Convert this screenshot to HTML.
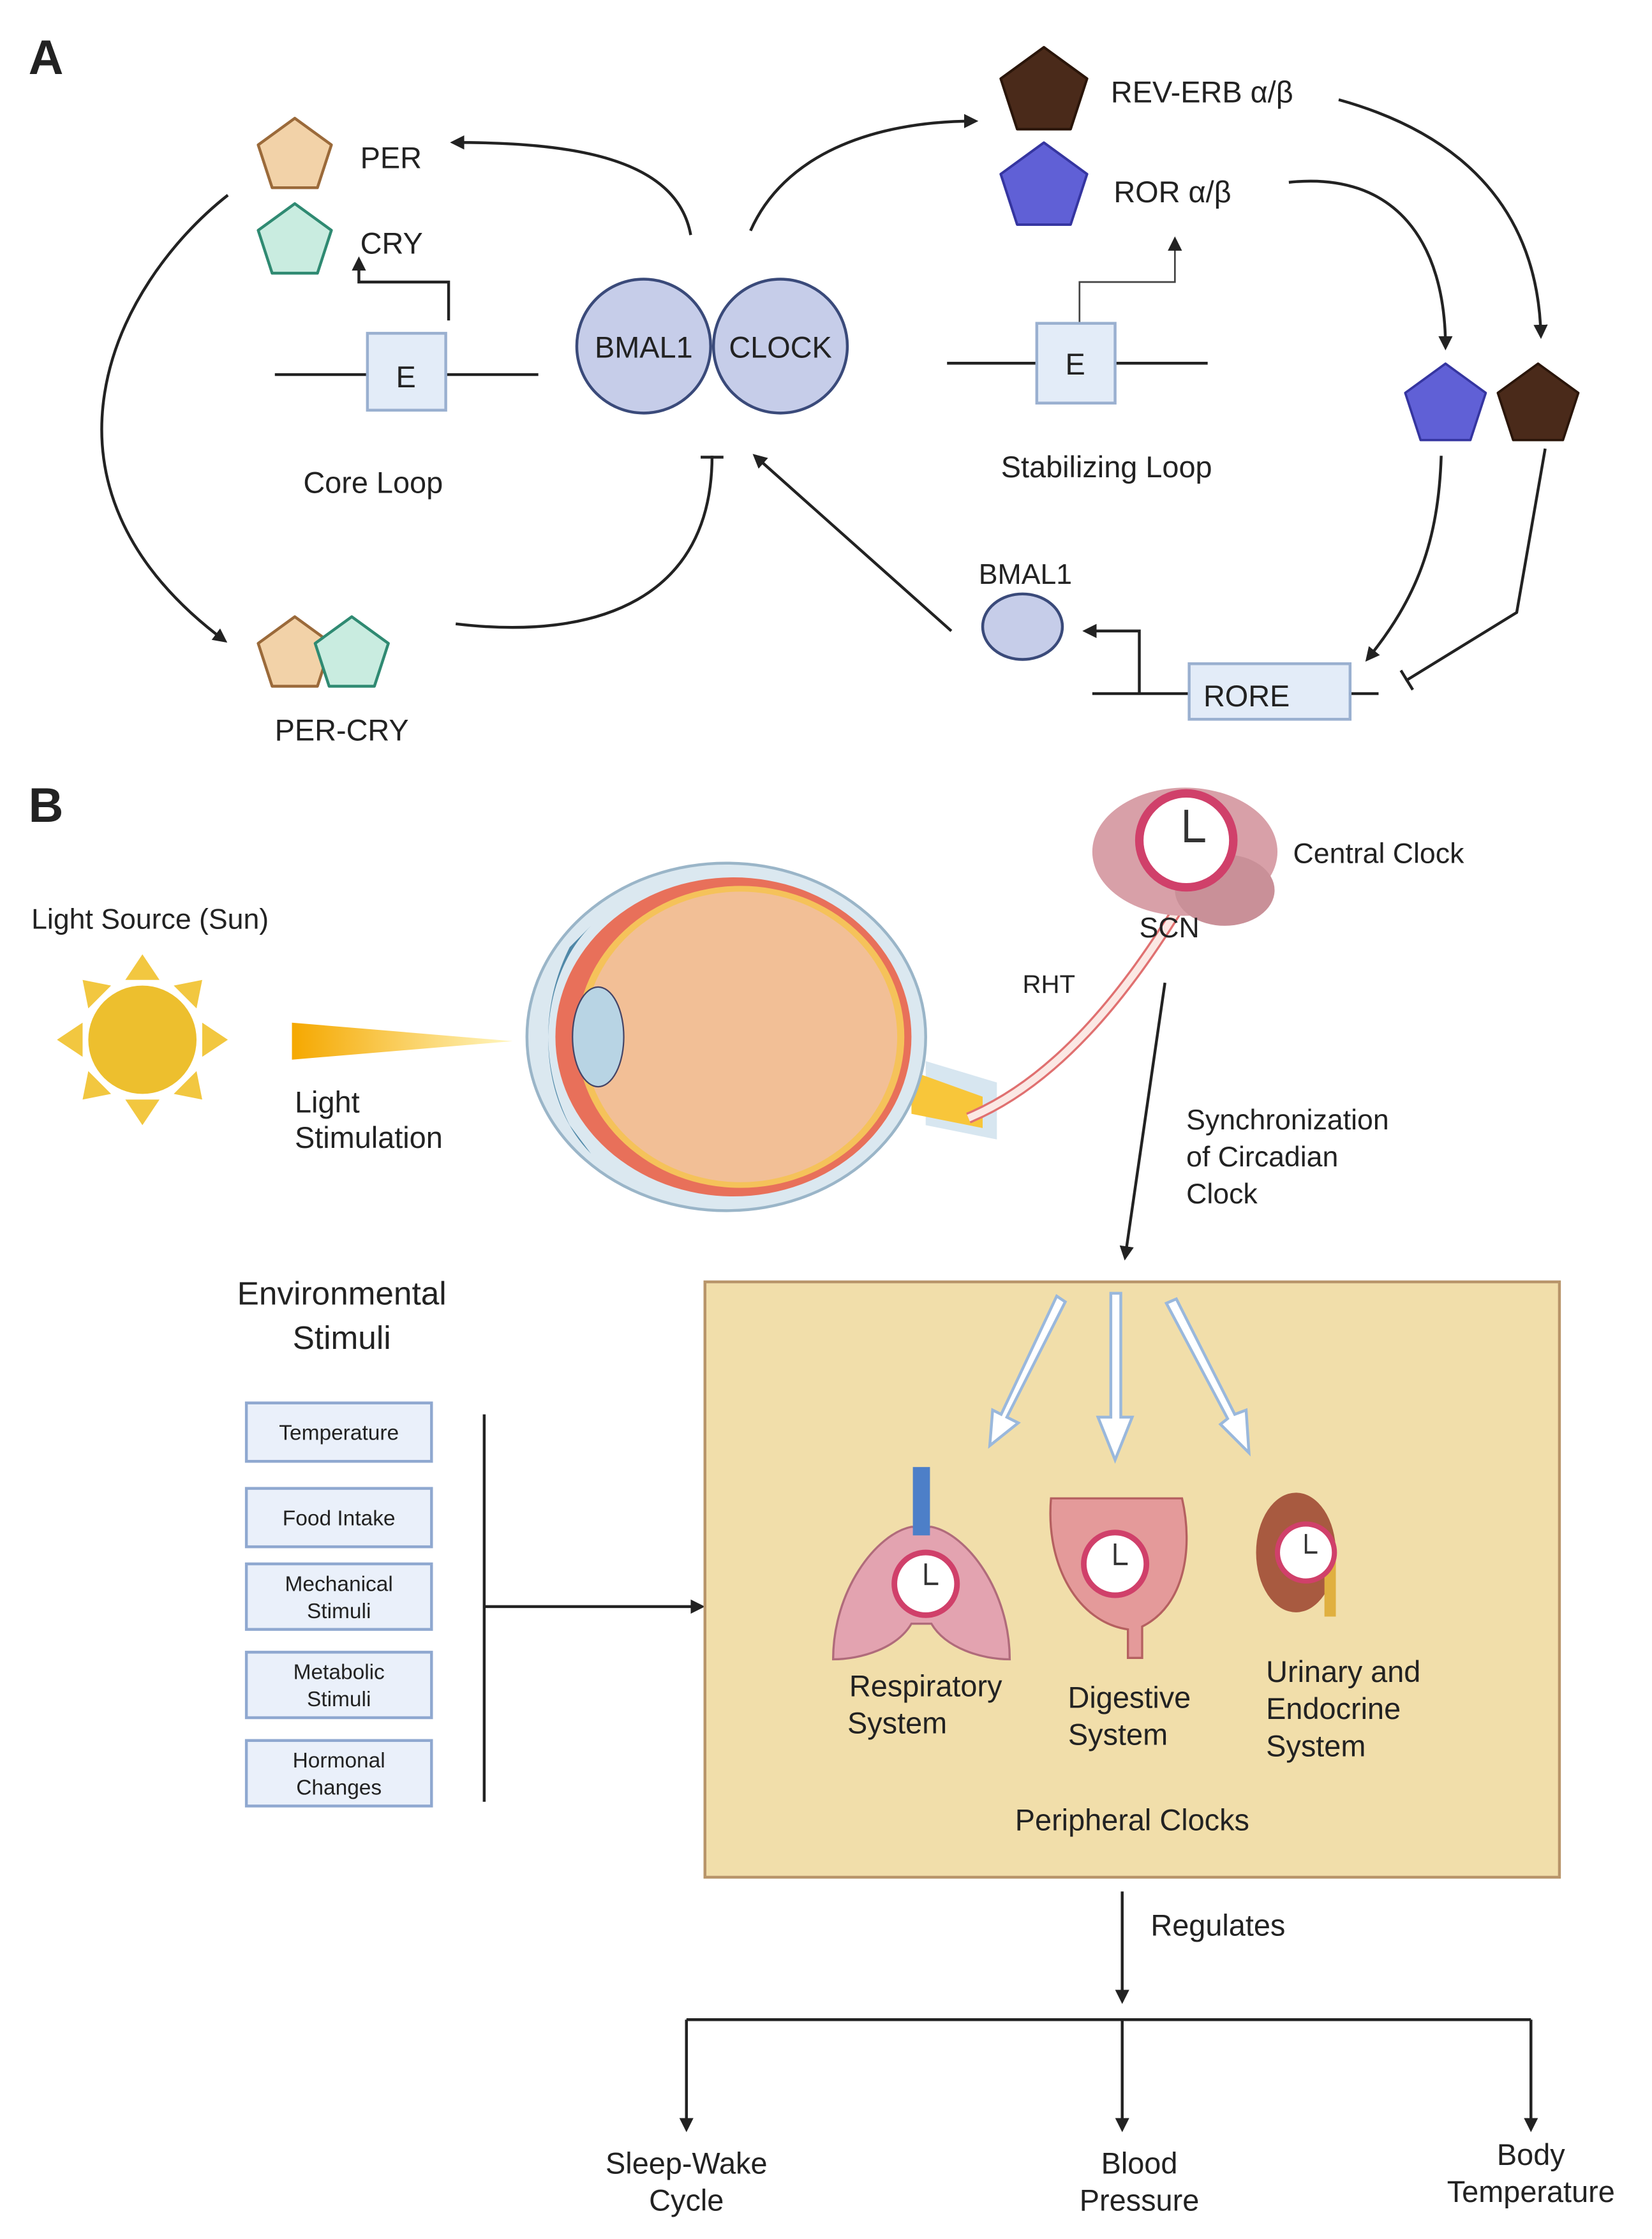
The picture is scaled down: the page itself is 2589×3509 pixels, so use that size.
<!DOCTYPE html>
<html><head><meta charset="utf-8"><style>
html,body{margin:0;padding:0;background:#fff;}
svg{display:block;}
text{font-family:"Liberation Sans","DejaVu Sans",sans-serif;fill:#222;}
</style></head><body>
<svg width="2589" height="3509" viewBox="0 0 1160 1572" preserveAspectRatio="none" xmlns="http://www.w3.org/2000/svg">
<defs>
<marker id="ah" markerWidth="10" markerHeight="10" refX="8" refY="5" orient="auto" markerUnits="userSpaceOnUse"><path d="M0,0 L10,5 L0,10 Z" fill="#222"/></marker>
<marker id="tb" markerWidth="4" markerHeight="16" refX="2" refY="8" orient="auto" markerUnits="userSpaceOnUse"><rect x="0" y="0" width="2" height="16" fill="#222"/></marker>
<polygon id="pg" points="0,-27 25.7,-8.3 15.9,21.8 -15.9,21.8 -25.7,-8.3" stroke-linejoin="round"/>
<linearGradient id="beam" x1="0" x2="1"><stop offset="0" stop-color="#f5a800"/><stop offset="1" stop-color="#fff6c0"/></linearGradient>
<g id="clk"><circle r="1" fill="#fff" stroke="#d0406a" stroke-width="0.18"/><path d="M0,-0.65 V0 H0.4" stroke="#333" stroke-width="0.08" fill="none"/></g>
</defs>
<rect width="1160" height="1572" fill="#fff"/>
<!-- Panel A -->
<text x="20" y="52" font-size="34" font-weight="bold" fill="#111">A</text>
<use href="#pg" x="207" y="110" fill="#f2d2a8" stroke="#9b6a3a" stroke-width="2"/>
<text x="253" y="118" font-size="21">PER</text>
<use href="#pg" x="207" y="170" fill="#c9ece0" stroke="#2f8a72" stroke-width="2"/>
<text x="253" y="178" font-size="21">CRY</text>
<path d="M485,165 C475,110 400,100 318,100" stroke="#222" stroke-width="2" fill="none" marker-end="url(#ah)"/>
<line x1="193" y1="263" x2="378" y2="263" stroke="#222" stroke-width="2"/>
<rect x="258" y="234" width="55" height="54" fill="#e3ecf8" stroke="#9ab0d0" stroke-width="2"/>
<text x="285" y="272" font-size="21" text-anchor="middle">E</text>
<path d="M315,225 V198 H252 V182" stroke="#222" stroke-width="2" fill="none" marker-end="url(#ah)"/>
<text x="262" y="346" font-size="21" text-anchor="middle">Core Loop</text>
<circle cx="452" cy="243" r="47" fill="#c6cde9" stroke="#3a4a7a" stroke-width="2"/>
<circle cx="548" cy="243" r="47" fill="#c6cde9" stroke="#3a4a7a" stroke-width="2"/>
<text x="452" y="251" font-size="21" text-anchor="middle">BMAL1</text>
<text x="548" y="251" font-size="21" text-anchor="middle">CLOCK</text>
<path d="M527,162 C550,110 610,85 685,85" stroke="#222" stroke-width="2" fill="none" marker-end="url(#ah)"/>
<use href="#pg" transform="translate(733,65) scale(1.18)" fill="#4a2a1a" stroke="#2a1509" stroke-width="1.5"/>
<text x="780" y="72" font-size="21">REV-ERB α/β</text>
<use href="#pg" transform="translate(733,132) scale(1.18)" fill="#6060d6" stroke="#3535a0" stroke-width="1.5"/>
<text x="782" y="142" font-size="21">ROR α/β</text>
<line x1="665" y1="255" x2="848" y2="255" stroke="#222" stroke-width="2"/>
<rect x="728" y="227" width="55" height="56" fill="#e3ecf8" stroke="#9ab0d0" stroke-width="2"/>
<text x="755" y="263" font-size="21" text-anchor="middle">E</text>
<path d="M758,226 V198 H825 V168" stroke="#444" stroke-width="1.2" fill="none" marker-end="url(#ah)"/>
<text x="777" y="335" font-size="21" text-anchor="middle">Stabilizing Loop</text>
<path d="M940,70 C1030,95 1080,150 1082,236" stroke="#222" stroke-width="2" fill="none" marker-end="url(#ah)"/>
<path d="M905,128 C980,120 1015,170 1015,244" stroke="#222" stroke-width="2" fill="none" marker-end="url(#ah)"/>
<use href="#pg" transform="translate(1015,285) scale(1.1)" fill="#6060d6" stroke="#3535a0" stroke-width="1.5"/>
<use href="#pg" transform="translate(1080,285) scale(1.1)" fill="#4a2a1a" stroke="#2a1509" stroke-width="1.5"/>
<path d="M1012,320 C1010,380 995,420 960,463" stroke="#222" stroke-width="2" fill="none" marker-end="url(#ah)"/>
<path d="M1085,315 L1065,430 L987,478" stroke="#222" stroke-width="2" fill="none" marker-end="url(#tb)"/>
<line x1="767" y1="487" x2="968" y2="487" stroke="#222" stroke-width="2"/>
<rect x="835" y="466" width="113" height="39" fill="#e3ecf8" stroke="#9ab0d0" stroke-width="2"/>
<text x="845" y="496" font-size="21">RORE</text>
<path d="M800,487 V443 H762" stroke="#222" stroke-width="2" fill="none" marker-end="url(#ah)"/>
<ellipse cx="718" cy="440" rx="28" ry="23" fill="#c6cde9" stroke="#3a4a7a" stroke-width="2"/>
<text x="720" y="410" font-size="20" text-anchor="middle">BMAL1</text>
<line x1="668" y1="443" x2="530" y2="320" stroke="#222" stroke-width="2" marker-end="url(#ah)"/>
<path d="M320,438 C420,450 500,420 500,320" stroke="#222" stroke-width="2" fill="none" marker-end="url(#tb)"/>
<path d="M160,137 C80,200 10,340 158,450" stroke="#222" stroke-width="2" fill="none" marker-end="url(#ah)"/>
<use href="#pg" x="207" y="460" fill="#f2d2a8" stroke="#9b6a3a" stroke-width="2"/>
<use href="#pg" x="247" y="460" fill="#c9ece0" stroke="#2f8a72" stroke-width="2"/>
<text x="240" y="520" font-size="21" text-anchor="middle">PER-CRY</text>
<!-- Panel B -->
<text x="20" y="577" font-size="34" font-weight="bold" fill="#111">B</text>
<text x="22" y="652" font-size="20">Light Source (Sun)</text>
<g fill="#f2c740">
<polygon points="100,670 112,688 88,688"/><polygon points="100,790 112,772 88,772"/>
<polygon points="40,730 58,718 58,742"/><polygon points="160,730 142,718 142,742"/>
<polygon points="58,688 78,692 62,708"/><polygon points="142,688 122,692 138,708"/>
<polygon points="58,772 78,768 62,752"/><polygon points="142,772 122,768 138,752"/>
</g>
<circle cx="100" cy="730" r="38" fill="#edbf2e"/>
<polygon points="205,718 360,731 205,744" fill="url(#beam)"/>
<text x="207" y="781" font-size="21">Light</text>
<text x="207" y="806" font-size="21">Stimulation</text>
<!-- eye -->
<path d="M650,745 L700,760 L700,800 L650,790 Z" fill="#d7e6f0"/>
<path d="M640,752 L690,770 L690,792 L640,782 Z" fill="#f8c63a"/>
<path d="M680,785 C740,760 790,700 832,630" stroke="#e07070" stroke-width="8" fill="none"/>
<path d="M680,785 C740,760 790,700 832,630" stroke="#fbe8e4" stroke-width="5" fill="none"/>
<ellipse cx="510" cy="728" rx="140" ry="122" fill="#dbe8f0" stroke="#9ab5c8" stroke-width="2"/>
<ellipse cx="515" cy="728" rx="125" ry="112" fill="#e8705a"/>
<ellipse cx="520" cy="728" rx="115" ry="106" fill="#f5c25a"/>
<ellipse cx="520" cy="728" rx="110" ry="102" fill="#f2bf96"/>
<path d="M415,650 C375,690 375,770 415,810 L400,790 C380,750 380,705 400,665 Z" fill="#4f88a8"/>
<ellipse cx="420" cy="728" rx="18" ry="35" fill="#b8d4e4" stroke="#446" stroke-width="1"/>
<text x="718" y="697" font-size="18">RHT</text>
<!-- brain -->
<ellipse cx="832" cy="598" rx="65" ry="45" fill="#d8a0a8"/>
<ellipse cx="860" cy="625" rx="35" ry="25" fill="#c99098"/>
<use href="#clk" transform="translate(833,590) scale(33)"/>
<text x="908" y="606" font-size="20">Central Clock</text>
<text x="800" y="658" font-size="20">SCN</text>
<line x1="818" y1="690" x2="790" y2="883" stroke="#222" stroke-width="2" marker-end="url(#ah)"/>
<text x="833" y="793" font-size="20">Synchronization</text>
<text x="833" y="819" font-size="20">of Circadian</text>
<text x="833" y="845" font-size="20">Clock</text>
<text x="240" y="916" font-size="23" text-anchor="middle">Environmental</text>
<text x="240" y="947" font-size="23" text-anchor="middle">Stimuli</text>
<g fill="#eaf0fa" stroke="#8fa8d0" stroke-width="2">
<rect x="173" y="985" width="130" height="41"/><rect x="173" y="1045" width="130" height="41"/>
<rect x="173" y="1098" width="130" height="46"/><rect x="173" y="1160" width="130" height="46"/>
<rect x="173" y="1222" width="130" height="46"/></g>
<g font-size="15" text-anchor="middle">
<text x="238" y="1011">Temperature</text><text x="238" y="1071">Food Intake</text>
<text x="238" y="1117">Mechanical</text><text x="238" y="1136">Stimuli</text>
<text x="238" y="1179">Metabolic</text><text x="238" y="1198">Stimuli</text>
<text x="238" y="1241">Hormonal</text><text x="238" y="1260">Changes</text></g>
<line x1="340" y1="993" x2="340" y2="1265" stroke="#222" stroke-width="2"/>
<line x1="340" y1="1128" x2="493" y2="1128" stroke="#222" stroke-width="2" marker-end="url(#ah)"/>
<rect x="495" y="900" width="600" height="418" fill="#f1deaa" stroke="#b8956a" stroke-width="2"/>
<g fill="#fff" stroke="#9ab8dc" stroke-width="2">
<polygon points="742,910 748,914 707,995 715,999 695,1015 697,990 703,993"/>
<polygon points="780,908 787,908 787,995 795,995 783,1025 771,995 780,995"/>
<polygon points="819,915 826,912 867,993 875,990 877,1020 857,1000 862,996"/>
</g>
<!-- organs -->
<path d="M640,1072 c-25,5 -55,45 -55,93 c20,0 45,-8 55,-25 h14 c10,17 35,25 55,25 c0,-48 -30,-88 -55,-93 Z" fill="#e3a3b0" stroke="#b06b7b" stroke-width="1.5"/>
<rect x="641" y="1030" width="12" height="48" fill="#4d7fc8"/>
<use href="#clk" transform="translate(650,1112) scale(22)"/>
<path d="M738,1052 h92 c8,35 2,75 -28,90 v22 h-10 v-20 c-35,-5 -58,-45 -54,-92 Z" fill="#e49a9a" stroke="#b56060" stroke-width="1.5"/>
<use href="#clk" transform="translate(783,1098) scale(22)"/>
<ellipse cx="910" cy="1090" rx="28" ry="42" fill="#a85a40"/>
<rect x="930" y="1095" width="8" height="40" fill="#e0b040"/>
<use href="#clk" transform="translate(917,1090) scale(20)"/>
<g font-size="21">
<text x="650" y="1191" text-anchor="middle">Respiratory</text><text x="630" y="1217" text-anchor="middle">System</text>
<text x="793" y="1199" text-anchor="middle">Digestive</text><text x="785" y="1225" text-anchor="middle">System</text>
<text x="889" y="1181">Urinary and</text><text x="889" y="1207">Endocrine</text><text x="889" y="1233">System</text>
<text x="795" y="1285" text-anchor="middle">Peripheral Clocks</text>
<text x="808" y="1359">Regulates</text></g>
<line x1="788" y1="1328" x2="788" y2="1405" stroke="#222" stroke-width="2" marker-end="url(#ah)"/>
<line x1="482" y1="1418" x2="1075" y2="1418" stroke="#222" stroke-width="2"/>
<line x1="482" y1="1418" x2="482" y2="1495" stroke="#222" stroke-width="2" marker-end="url(#ah)"/>
<line x1="788" y1="1418" x2="788" y2="1495" stroke="#222" stroke-width="2" marker-end="url(#ah)"/>
<line x1="1075" y1="1418" x2="1075" y2="1495" stroke="#222" stroke-width="2" marker-end="url(#ah)"/>
<g font-size="21" text-anchor="middle">
<text x="482" y="1526">Sleep-Wake</text><text x="482" y="1552">Cycle</text>
<text x="800" y="1526">Blood</text><text x="800" y="1552">Pressure</text>
<text x="1075" y="1520">Body</text><text x="1075" y="1546">Temperature</text></g>
</svg>
</body></html>
